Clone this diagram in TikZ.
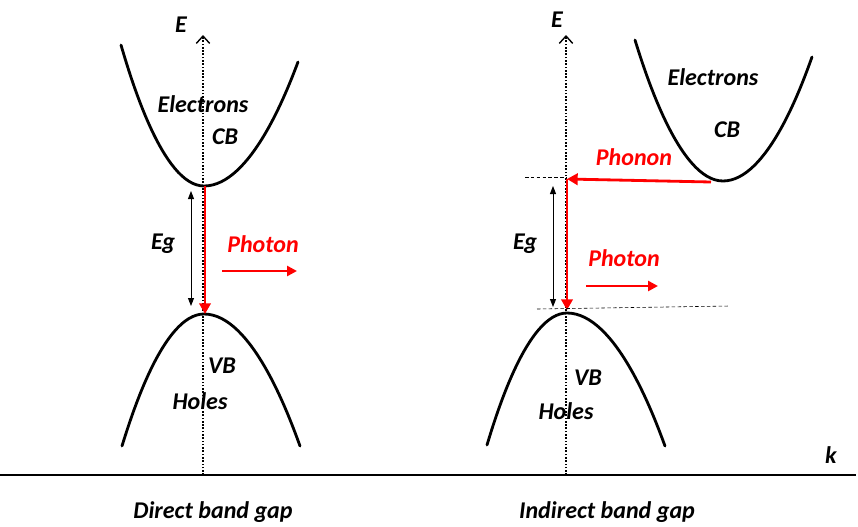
\documentclass[tikz,border=0pt]{standalone}
\usepackage{fontspec}
\setmainfont{Carlito}
\usetikzlibrary{arrows.meta}

\begin{document}
\begin{tikzpicture}[x=0.03cm,y=-0.03cm,
  band/.style={line width=2.4pt,line cap=round},
  axis/.style={line width=1.7pt,dash pattern=on 1.4pt off 1.4pt,
               -{Straight Barb[length=2.2mm,width=4mm,line width=1.2pt]}},
  kaxis/.style={line width=1.4pt},
  trans/.style={draw=red,line width=2.4pt,-{Triangle[length=3.2mm,width=3.4mm]}},
  photon/.style={draw=red,line width=2.2pt,-{Triangle[length=3mm,width=3mm]}},
  gap/.style={line width=.8pt,{Triangle[length=2.4mm,width=1.8mm]}-{Triangle[length=2.4mm,width=1.8mm]}},
  guide/.style={densely dashed,line width=.5pt},
  lbl/.style={font=\fontsize{20.5}{24}\selectfont\bfseries\itshape,inner sep=0pt},
  rlbl/.style={lbl,text=red}
]
  \useasboundingbox (0,0) rectangle (858,527);

  % k axis
  \coordinate (k0) at (0,475);
  \coordinate (k1) at (856,475);
  \draw[kaxis] (k0) -- (k1);
  \node[lbl] (k) at (831,455) {k};

  % direct band gap
  \coordinate (oL) at (203,475);
  \coordinate (tL) at (203,35);
  \draw[axis] (oL) -- (tL);
  \node[lbl] (eL) at (181,25) {E};
  \draw[band] (121,45) parabola bend (204,186) (298,62);
  \draw[band] (122,446) parabola bend (204,314) (300,446);
  \coordinate (cbL) at (205,186);
  \coordinate (vbL) at (205,314);
  \draw[trans] (cbL) -- (vbL);
  \coordinate (egLt) at (191,191);
  \coordinate (egLb) at (191,306);
  \draw[gap] (egLt) -- (egLb);
  \coordinate (phLa) at (222,271);
  \coordinate (phLb) at (297,271);
  \draw[photon] (phLa) -- (phLb);
  \node[lbl] (electL) at (203,104) {Electrons};
  \node[lbl] (cbtL) at (225,137) {CB};
  \node[lbl] (egtL) at (163,244) {Eg};
  \node[rlbl] (photL) at (263,244) {Photon};
  \node[lbl] (vbtL) at (222,366) {VB};
  \node[lbl] (holesL) at (200,401) {Holes};
  \node[lbl] (capL) at (213,512) {Direct band gap};

  % indirect band gap
  \coordinate (oR) at (566,475);
  \coordinate (tR) at (566,35);
  \draw[axis] (oR) -- (tR);
  \node[lbl] (eR) at (557,20) {E};
  \draw[band] (635,40) parabola bend (723,181) (812,57);
  \draw[band] (487,445) parabola bend (567,313) (665,446);
  \coordinate (cbR) at (711,182);
  \coordinate (kneeR) at (567,179);
  \coordinate (vbR) at (567,310);
  \draw[trans] (cbR) -- (kneeR);
  \draw[trans] (kneeR) -- (vbR);
  \coordinate (gdTa) at (525,177);
  \coordinate (gdTb) at (567,177);
  \draw[guide] (gdTa) -- (gdTb);
  \coordinate (gdBa) at (537,309);
  \coordinate (gdBb) at (730,306);
  \draw[guide] (gdBa) -- (gdBb);
  \coordinate (egRt) at (553,186);
  \coordinate (egRb) at (553,307);
  \draw[gap] (egRt) -- (egRb);
  \coordinate (phRa) at (586,286);
  \coordinate (phRb) at (658,286);
  \draw[photon] (phRa) -- (phRb);
  \node[lbl] (electR) at (713,77) {Electrons};
  \node[lbl] (cbtR) at (727,130) {CB};
  \node[rlbl] (phonR) at (634,157) {Phonon};
  \node[lbl] (egtR) at (525,244) {Eg};
  \node[rlbl] (photR) at (624,258) {Photon};
  \node[lbl] (vbtR) at (588,378) {VB};
  \node[lbl] (holesR) at (566,411) {Holes};
  \node[lbl] (capR) at (607,512) {Indirect band gap};
\end{tikzpicture}
\end{document}
